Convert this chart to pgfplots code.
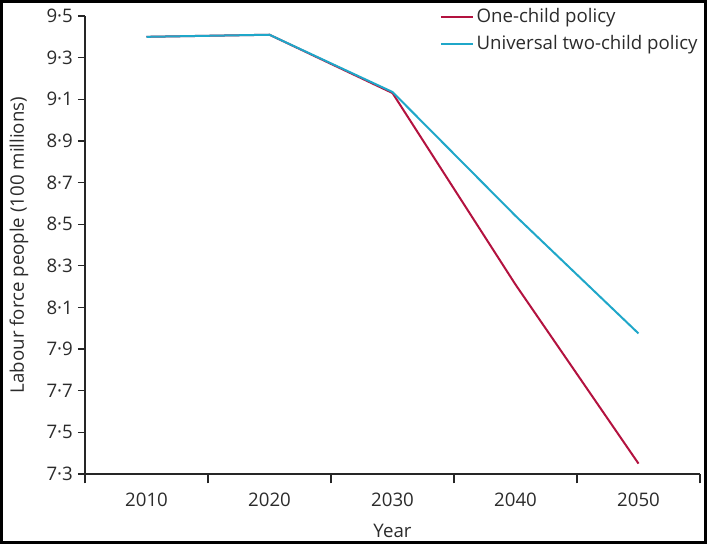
\documentclass[border=0pt]{standalone}
\usepackage{pgfplots}
\pgfplotsset{compat=1.18}
\usepackage{fontspec}
\setmainfont{Open Sans}
\definecolor{redc}{HTML}{B3123F}
\definecolor{bluec}{HTML}{1FA7C9}
\definecolor{txt}{HTML}{2B2B2B}
\begin{document}
\fontsize{14pt}{16pt}\selectfont
\begin{tikzpicture}[x=1pt,y=1pt]
\useasboundingbox (-63.75,-52.5) rectangle (466.5,355.5);
\begin{axis}[
  at={(0,0)}, anchor=south west,
  scale only axis, width=461.25pt, height=343.5pt,
  xmin=2005, xmax=2055, ymin=7.3, ymax=9.5,
  axis x line*=bottom, axis y line*=left,
  axis line style={-, line width=1pt, black!85},
  xtick={2010,2020,2030,2040,2050},
  xticklabels={2010,2020,2030,2040,2050},
  major x tick style={draw=none},
  minor xtick={2005,2015,2025,2035,2045,2055},
  minor x tick style={line width=1pt, black!85},
  minor tick length=7pt,
  ytick={7.3,7.5,7.7,7.9,8.1,8.3,8.5,8.7,8.9,9.1,9.3,9.5},
  yticklabels={7·3,7·5,7·7,7·9,8·1,8·3,8·5,8·7,8·9,9·1,9·3,9·5},
  major y tick style={line width=1pt, black!85},
  major tick length=5.25pt,
  tick align=outside,
  ticklabel style={font=\fontsize{14pt}{16pt}\selectfont, text=txt},
  xticklabel style={yshift=-4pt},
  yticklabel style={xshift=1pt},
  xlabel={Year},
  ylabel={Labour force people (100 millions)},
  label style={font=\fontsize{14pt}{16pt}\selectfont, text=txt},
  xlabel style={at={([yshift=-42.5pt]axis description cs:0.5,0)}, anchor=center},
  ylabel style={at={([xshift=-49.5pt]axis description cs:0,0.5)}, anchor=center},
  legend style={draw=none, fill=none, at={(axis description cs:0,1)}, anchor=north west,
    xshift=266pt, yshift=8pt, inner sep=0pt, row sep=3.5pt,
    font=\fontsize{14pt}{16pt}\selectfont, text=txt},
  legend cell align=left,
  legend image code/.code={\draw[#1, line width=1.5pt] (0pt,0pt) -- (24pt,0pt);},
  clip=false,
]
\addplot[redc, line width=1.5pt] coordinates {(2010,9.40) (2020,9.41) (2030,9.13) (2040,8.21) (2050,7.35)};
\addlegendentry{One-child policy}
\addplot[bluec, line width=1.5pt] coordinates {(2010,9.40) (2020,9.41) (2030,9.135) (2040,8.54) (2050,7.975)};
\addlegendentry{Universal two-child policy}
\end{axis}
\draw[line width=2.25pt, black] (-62.625,-51.375) rectangle (465.375,354.375);
\end{tikzpicture}
\end{document}
